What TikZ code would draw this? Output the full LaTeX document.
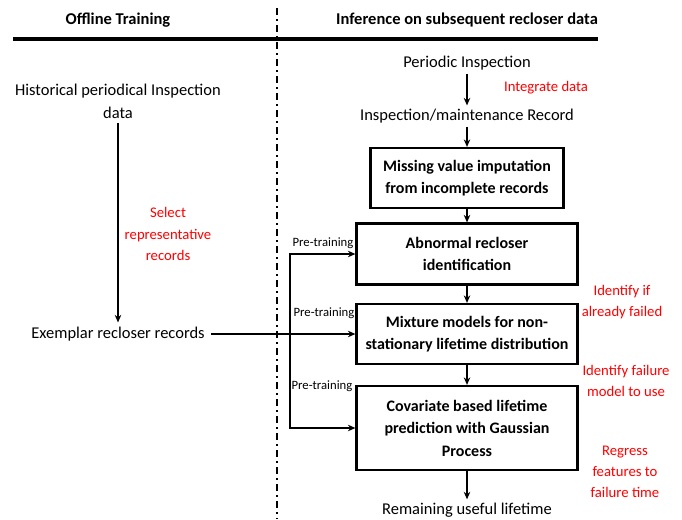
\documentclass[tikz,border=0pt]{standalone}
\usepackage{fontspec}
\setmainfont{Carlito}
\usetikzlibrary{arrows.meta}

\begin{document}
\begin{tikzpicture}[x=1pt, y=-1pt]
    % Define the styles for the blocks, texts and arrows
    \tikzset{block/.style={rectangle, draw, line width=2.2pt, align=center, inner sep=0pt, font=\fontsize{16}{22.5}\selectfont\bfseries}}
    \tikzset{txt/.style={align=center, font=\fontsize{16.5}{23}\selectfont}}
    \tikzset{note/.style={align=center, text=red, font=\fontsize{14.7}{21.3}\selectfont}}
    \tikzset{head/.style={font=\fontsize{16.5}{20}\selectfont\bfseries}}
    \tikzset{tag/.style={font=\fontsize{12.7}{15}\selectfont}}
    \tikzset{line/.style={draw, line width=1.4pt, -{Stealth[length=7.5pt, width=6.5pt]}}}

    \useasboundingbox (0,0) rectangle (682,519);

    % Headings and separators
    \node[head] (offline) at (118,20) {Offline Training};
    \node[head] (online) at (467,20) {Inference on subsequent recloser data};
    \draw[line width=3.5pt] (13,39) -- (598,39);
    \draw[line width=1.5pt, dash pattern=on 7pt off 4pt on 2pt off 4pt] (277,8) -- (277,519);

    % Offline side
    \node[txt] (hist) at (118,101) {Historical periodical Inspection\\data};
    \node[txt] (exemplar) at (118,334) {Exemplar recloser records};
    \node[note] (select) at (168,234) {Select\\representative\\records};
    \draw[line, shorten <=1pt, shorten >=1pt] (hist) -- (exemplar);

    % Inference side
    \node[txt] (periodic) at (467,63) {Periodic Inspection};
    \node[txt] (record) at (467,116) {Inspection/maintenance Record};
    \node[note] (integrate) at (546,88) {Integrate data};

    \node[block, minimum width=193pt, minimum height=60pt] (impute) at (467,178) {Missing value imputation\\from incomplete records};
    \node[block, minimum width=221pt, minimum height=61pt] (abnormal) at (467,254) {Abnormal recloser\\identification};
    \node[block, minimum width=221pt, minimum height=60pt] (mixture) at (467,334) {Mixture models for non-\\stationary lifetime distribution};
    \node[block, minimum width=221pt, minimum height=84pt] (covariate) at (467,428) {Covariate based lifetime\\prediction with Gaussian\\Process};
    \node[txt] (rul) at (467,510) {Remaining useful lifetime};

    \node[note] (failed) at (622,302) {Identify if\\already failed};
    \node[note] (model) at (626,381) {Identify failure\\model to use};
    \node[note] (regress) at (625,472) {Regress\\features to\\failure time};

    \draw[line] (periodic) -- (record);
    \draw[line] (record) -- (impute);
    \draw[line] (impute) -- (abnormal);
    \draw[line] (abnormal) -- (mixture);
    \draw[line] (mixture) -- (covariate);
    \draw[line] (covariate) -- (rul);

    % Pre-training links
    \coordinate (split) at (290,334);
    \draw[line, shorten <=3pt] (exemplar) -- (mixture);
    \draw[line] (split) |- (abnormal.west);
    \draw[line] (split) |- (covariate.west);

    \node[tag] (pre1) at (323,243) {Pre-training};
    \node[tag] (pre2) at (324,313) {Pre-training};
    \node[tag] (pre3) at (322,386) {Pre-training};

\end{tikzpicture}
\end{document}
